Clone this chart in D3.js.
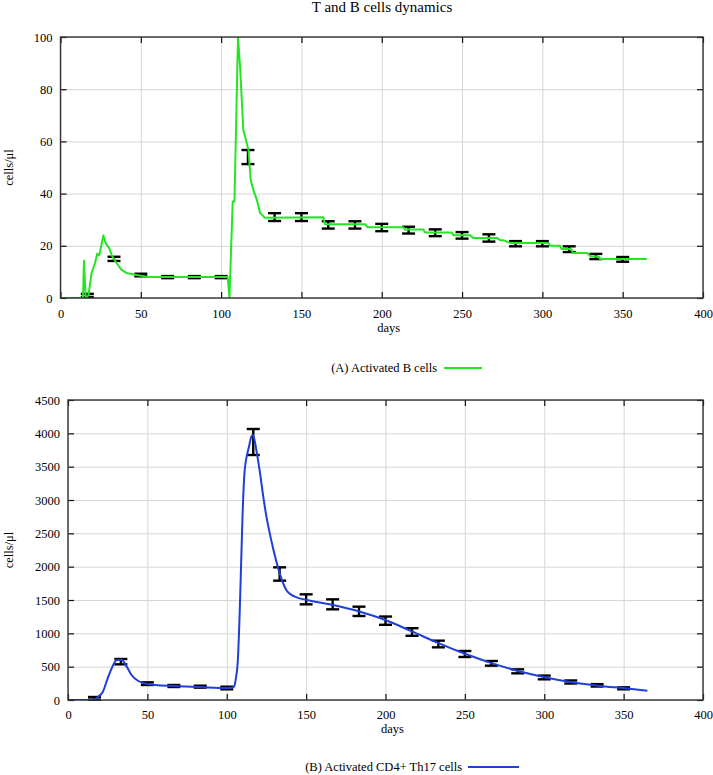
<!DOCTYPE html>
<html>
<head>
<meta charset="utf-8">
<script src="https://cdn.jsdelivr.net/npm/d3@7"></script>
<style>
  body { margin: 0; background: #fff; }
  svg { display: block; }
  svg text { font-family: "Liberation Serif", "Times New Roman", "DejaVu Serif", serif; }
</style>
</head>
<body>
<svg id="chart" width="713" height="775"></svg>
<script>
// activated B cells, simulated curve (days / cells per ul)
const bDays = [0, 14, 14.6, 15.7, 17.4, 19.4, 21.5, 22.9, 24.1, 26.7, 28.1, 30.4, 32.2, 34.9, 38, 41.1, 47.4, 54.6, 104.1, 105.2,
  107.2, 108.3, 110.5, 111.8, 113.8, 117, 118.4, 120, 122.2, 124.2, 127.3, 163.6, 164.6, 189.6, 191.3, 213.5, 214.5, 225.9, 227, 243.6,
  244.6, 255, 257, 271.6, 274, 276, 280, 303.7, 305, 311, 312, 318, 319, 328, 330, 335, 336, 365]
const bVals = [0, 0, 14.3, 0, 1, 9.6, 13.4, 17, 16.3, 24, 21, 19, 16, 13.4, 10.8, 9.6, 8.8, 8, 8, 0,
  37, 37, 100, 88.7, 64.5, 56.8, 45.3, 41.5, 37.7, 32.6, 30.7, 30.9, 28.3, 28.3, 27.1, 27.1, 26.2, 26.2, 25.1, 25.1,
  24, 24, 23, 23, 22.1, 22.1, 21.1, 21.1, 20, 20, 18.8, 18.8, 17.2, 17.2, 15.9, 15.9, 14.9, 14.9]

// activated CD4+ Th17 cells, simulated curve
const tDays = [0, 14, 16, 19, 22, 25, 28.5, 30.7, 33.8, 37, 40, 44.3, 49.6, 55, 66.3, 83, 100, 103, 104.5, 105.8,
  107, 108, 109, 110, 111, 112, 113, 114, 115.5, 116.5, 117.5, 119, 121, 123, 125, 128, 131, 134, 137.5, 140.5,
  144, 150.4, 167, 184, 200, 217, 233.7, 250.5, 267.3, 283.7, 300.3, 317.3, 334, 351, 365]
const tVals = [0, 0, 5, 50, 125, 325, 525, 600, 600, 500, 375, 285, 240, 225, 210, 195, 180, 185, 200, 330,
  600, 1200, 2000, 2800, 3350, 3580, 3700, 3800, 3950, 3975, 3900, 3700, 3400, 3050, 2750, 2400, 2100, 1850, 1650, 1580,
  1540, 1500, 1425, 1325, 1200, 1025, 850, 690, 550, 435, 340, 265, 215, 175, 140]

// observed means and error half-widths
const eDays = [16.7, 33.3, 50, 66.7, 83.3, 100, 116.7, 133.3, 150, 166.7, 183.3, 200, 216.7, 233.3, 250, 266.7, 283.3, 300, 316.7, 333.3, 350]
const bMean = [1, 15, 8.8, 8, 8, 8, 54, 31, 31, 28, 28, 27, 26, 25, 24, 23, 20.8, 20.8, 18.7, 15.9, 14.8]
const bErr = [0.6, 0.8, 0.5, 0.4, 0.4, 0.4, 2.7, 1.5, 1.5, 1.4, 1.4, 1.4, 1.3, 1.3, 1.25, 1.4, 1, 1, 1.1, 1, 0.9]
const tMean = [25, 575, 245, 210, 200, 180, 3870, 1890, 1510, 1435, 1330, 1190, 1020, 840, 690, 550, 430, 338, 270, 220, 175]
const tErr = [20, 40, 20, 15, 15, 20, 195, 100, 75, 75, 70, 62, 57, 50, 45, 35, 30, 28, 23, 18, 15]

const xTicks = [0, 50, 100, 150, 200, 250, 300, 350, 400]
const bTicks = [0, 20, 40, 60, 80, 100]
const tTicks = [0, 500, 1000, 1500, 2000, 2500, 3000, 3500, 4000, 4500]

const svg = d3.select("#chart")

svg.append("text")
  .attr("x", 382).attr("y", 12)
  .attr("text-anchor", "middle")
  .attr("font-size", 15)
  .text("T and B cells dynamics")

//strip the default axis font so the css serif applies
let plain = s => s.attr("font-family", null).attr("font-size", null).call(s => s.select(".domain").remove())

let panel = (opts) => {
  let {left, right, top, bottom, yMax, yTicks, days, vals, mean, err, color, curve, legend, legendEnd, legendLine, id, pad} = opts
  let x = d3.scaleLinear().domain([0, 400]).range([left, right])
  let y = d3.scaleLinear().domain([0, yMax]).range([bottom, top])
  let g = svg.append("g")

  //grid
  g.append("g").attr("transform", `translate(0,${bottom})`)
    .call(d3.axisBottom(x).tickValues(xTicks).tickSize(-(bottom - top)).tickFormat(""))
    .call(plain)
    .selectAll("line").attr("stroke", "#d6d6d6")
  g.append("g").attr("transform", `translate(${left},0)`)
    .call(d3.axisLeft(y).tickValues(yTicks).tickSize(-(right - left)).tickFormat(""))
    .call(plain)
    .selectAll("line").attr("stroke", "#d6d6d6")

  //inward ticks on all four sides
  let tk = [
    [d3.axisBottom(x).tickValues(xTicks), `translate(0,${bottom})`],
    [d3.axisTop(x).tickValues(xTicks), `translate(0,${top})`],
    [d3.axisLeft(y).tickValues(yTicks), `translate(${left},0)`],
    [d3.axisRight(y).tickValues(yTicks), `translate(${right},0)`]
  ]
  tk.forEach(([ax, tr]) => {
    g.append("g").attr("transform", tr)
      .call(ax.tickSize(-6).tickFormat(""))
      .call(plain)
      .selectAll("line").attr("stroke", "#111").attr("stroke-width", 1.2)
  })

  //tick labels
  g.append("g").attr("transform", `translate(0,${bottom})`)
    .call(d3.axisBottom(x).tickValues(xTicks).tickSize(0).tickPadding(pad).tickFormat(d3.format("d")))
    .call(plain)
    .selectAll("text").attr("font-size", 12.5).attr("fill", "#000")
  g.append("g").attr("transform", `translate(${left},0)`)
    .call(d3.axisLeft(y).tickValues(yTicks).tickSize(0).tickPadding(8).tickFormat(d3.format("d")))
    .call(plain)
    .selectAll("text").attr("font-size", 12.5).attr("fill", "#000")

  g.append("text")
    .attr("x", (left + right) / 2 + 7).attr("y", bottom + pad + 23)
    .attr("text-anchor", "middle").attr("font-size", 12.5)
    .text("days")
  g.append("text")
    .attr("transform", `translate(13,${(top + bottom) / 2}) rotate(-90)`)
    .attr("text-anchor", "middle").attr("font-size", 12.5)
    .text("cells/\u03bcl")

  //clip
  svg.append("clipPath").attr("id", id)
    .append("rect").attr("x", left).attr("y", top).attr("width", right - left).attr("height", bottom - top)

  //error bars
  let bars = g.append("g").selectAll("g").data(eDays).enter().append("g")
    .attr("stroke", "#000").attr("stroke-width", 2.4)
  bars.append("line")
    .attr("x1", d => x(d)).attr("x2", d => x(d))
    .attr("y1", (d, i) => y(mean[i] - err[i])).attr("y2", (d, i) => y(mean[i] + err[i]))
  bars.append("line")
    .attr("x1", d => x(d) - 6.5).attr("x2", d => x(d) + 6.5)
    .attr("y1", (d, i) => y(mean[i] - err[i])).attr("y2", (d, i) => y(mean[i] - err[i]))
  bars.append("line")
    .attr("x1", d => x(d) - 6.5).attr("x2", d => x(d) + 6.5)
    .attr("y1", (d, i) => y(mean[i] + err[i])).attr("y2", (d, i) => y(mean[i] + err[i]))

  //simulated curve
  let line = d3.line().x(d => x(d[0])).y(d => y(d[1])).curve(curve)
  g.append("path")
    .datum(days.map((d, i) => [d, vals[i]]))
    .attr("clip-path", `url(#${id})`)
    .attr("fill", "none").attr("stroke", color).attr("stroke-width", 2)
    .attr("stroke-linejoin", "round")
    .attr("d", line)

  //frame
  g.append("rect")
    .attr("x", left).attr("y", top).attr("width", right - left).attr("height", bottom - top)
    .attr("fill", "none").attr("stroke", "#333").attr("stroke-width", 1.4)

  //legend
  g.append("text")
    .attr("x", legendEnd).attr("y", legendLine[2] + 4)
    .attr("text-anchor", "end").attr("font-size", 12.5)
    .text(legend)
  g.append("line")
    .attr("x1", legendLine[0]).attr("x2", legendLine[1])
    .attr("y1", legendLine[2]).attr("y2", legendLine[2])
    .attr("stroke", color).attr("stroke-width", 2)
}

panel({
  id: "clipA", left: 60.5, right: 703, top: 37, bottom: 298, yMax: 100, yTicks: bTicks, pad: 11,
  days: bDays, vals: bVals, mean: bMean, err: bErr, color: "#22e622", curve: d3.curveLinear,
  legend: "(A) Activated B cells", legendEnd: 437, legendLine: [444, 482, 368]
})
panel({
  id: "clipB", left: 68, right: 703, top: 400, bottom: 700, yMax: 4500, yTicks: tTicks, pad: 10,
  days: tDays, vals: tVals, mean: tMean, err: tErr, color: "#1f3fd8", curve: d3.curveMonotoneX,
  legend: "(B) Activated CD4+ Th17 cells", legendEnd: 462, legendLine: [468, 519, 767]
})
</script>
</body>
</html>
